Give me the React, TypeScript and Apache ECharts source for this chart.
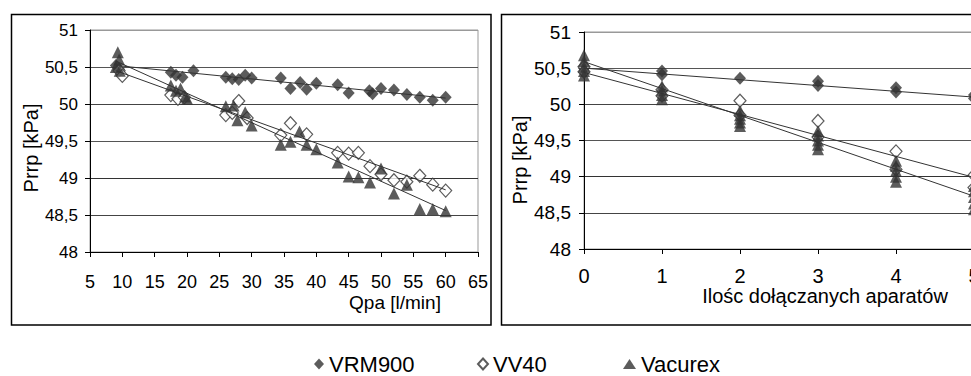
import React, { useEffect, useRef } from "react";
import * as echarts from "echarts";

// ---------- data ----------
const seriesNames = ["VRM900", "VV40", "Vacurex"];

// Left chart: Qpa [l/min] vs Prrp [kPa]
const leftVRM900: number[][] = [
  [9, 50.52], [9.5, 50.47], [17.5, 50.43], [18.3, 50.39], [19.3, 50.36], [21, 50.45],
  [26, 50.36], [27, 50.34], [28, 50.33], [29, 50.39], [30, 50.35], [34.5, 50.35],
  [36, 50.21], [37.5, 50.29], [38.5, 50.2], [40, 50.28], [43.3, 50.26], [45, 50.15],
  [48.2, 50.18], [48.7, 50.14], [50, 50.21], [52, 50.19], [54, 50.13], [56, 50.09],
  [58, 50.05], [60, 50.09],
];
const leftVV40: number[][] = [
  [9.5, 50.45], [10, 50.38], [17.5, 50.12], [18.6, 50.07], [19.6, 50.09],
  [26, 49.85], [27, 49.88], [28, 50.04], [29.3, 49.81], [34.5, 49.58], [36, 49.74],
  [38.5, 49.59], [43.3, 49.34], [45, 49.33], [46.5, 49.34], [48.3, 49.16], [50, 49.05],
  [52, 48.97], [54, 48.95], [56, 49.03], [58, 48.91], [60, 48.83],
];
const leftVacurex: number[][] = [
  [9.3, 50.7], [9.5, 50.6], [9, 50.5], [9.6, 50.45], [17.5, 50.25], [18.3, 50.18],
  [19, 50.21], [19.7, 50.1], [20, 50.07], [26, 49.97], [27.2, 49.98], [27.8, 49.78],
  [29, 49.89], [30, 49.71], [34.5, 49.45], [36, 49.49], [37.4, 49.63], [38.5, 49.45],
  [40, 49.39], [43.3, 49.21], [45, 49.02], [46.5, 49.01], [48.3, 48.94], [50, 49.13],
  [52, 48.79], [54, 48.91], [56, 48.58], [58, 48.58], [60, 48.55],
];
const leftTrendVRM900: number[][] = [[9, 50.52], [60, 50.08]];
const leftTrendVV40: number[][] = [[9, 50.45], [60, 48.84]];
const leftTrendVacurex: number[][] = [[9, 50.58], [60, 48.56]];

// Right chart: number of connected devices vs Prrp [kPa]
const rightVRM900: number[][] = [
  [0, 50.5], [0, 50.45], [1, 50.46], [1, 50.41], [2, 50.36], [3, 50.32], [3, 50.26],
  [4, 50.23], [4, 50.17], [5, 50.13], [5, 50.08],
];
const rightVV40: number[][] = [
  [0, 50.52], [0, 50.45], [1, 50.2], [1, 50.12], [2, 50.05], [2, 49.85], [3, 49.77],
  [3, 49.55], [4, 49.35], [4, 49.1], [5, 49.02], [5, 48.85],
];
const rightVacurex: number[][] = [
  [0, 50.68], [0, 50.6], [0, 50.52], [0, 50.46], [0, 50.4],
  [1, 50.25], [1, 50.19], [1, 50.13], [1, 50.07],
  [2, 49.91], [2, 49.85], [2, 49.8], [2, 49.75], [2, 49.7],
  [3, 49.63], [3, 49.57], [3, 49.5], [3, 49.44], [3, 49.38],
  [4, 49.22], [4, 49.15], [4, 49.08], [4, 49.0], [4, 48.93],
  [5, 48.87], [5, 48.8], [5, 48.72], [5, 48.63], [5, 48.55],
];
const rightTrendVRM900: number[][] = [[0, 50.5], [5, 50.1]];
const rightTrendVV40: number[][] = [[0, 50.44], [5, 48.99]];
const rightTrendVacurex: number[][] = [[0, 50.59], [5, 48.73]];

// axes
const yMin = 48, yMax = 51, yStep = 0.5;
const leftXMin = 5, leftXMax = 65, leftXStep = 5;
const rightXMin = 0, rightXMax = 5, rightXStep = 1;

const yAxisTitle = "Prrp [kPa]";
const leftXTitle = "Qpa [l/min]";
const rightXTitle = "Ilośc dołączanych aparatów";

// ---------- styles ----------
const FONT = '"Liberation Sans", Arial, Helvetica, sans-serif';
const DARK = "#333333";

const fmt = (v: number) => String(v).replace(".", ",");

const markerStyles: Record<string, any> = {
  VRM900: { symbol: "diamond", symbolSize: [12, 13], itemStyle: { color: DARK } },
  VV40: {
    symbol: "diamond",
    symbolSize: [12, 13],
    itemStyle: { color: "#ffffff", borderColor: DARK, borderWidth: 1.2 },
  },
  Vacurex: { symbol: "triangle", symbolSize: [12, 12], itemStyle: { color: DARK } },
};

function scatter(name: string, data: number[][], gi: number) {
  return {
    name,
    type: "scatter",
    xAxisIndex: gi,
    yAxisIndex: gi,
    data,
    z: 2,
    ...markerStyles[name],
  };
}
function trend(name: string, data: number[][], gi: number) {
  return {
    name: "trend " + name + " " + gi,
    type: "line",
    xAxisIndex: gi,
    yAxisIndex: gi,
    data,
    showSymbol: false,
    symbol: "none",
    z: 3,
    lineStyle: { color: DARK, width: 1 },
  };
}

function xAxis(gi: number, min: number, max: number, interval: number, fontSize: number, margin: number) {
  return {
    gridIndex: gi,
    type: "value",
    min,
    max,
    interval,
    axisLine: { show: true, onZero: false, lineStyle: { color: "#000", width: 1 } },
    axisTick: { show: true, inside: false, length: 5, lineStyle: { color: "#000" } },
    axisLabel: { fontSize, color: "#000", margin, fontFamily: FONT, formatter: fmt },
    splitLine: { show: false },
  };
}
function yAxis(gi: number, fontSize: number, margin: number) {
  return {
    gridIndex: gi,
    type: "value",
    min: yMin,
    max: yMax,
    interval: yStep,
    axisLine: { show: true, onZero: false, lineStyle: { color: "#000", width: 1 } },
    axisTick: { show: true, inside: false, length: 5, lineStyle: { color: "#000" } },
    axisLabel: { fontSize, color: "#000", margin, fontFamily: FONT, formatter: fmt },
    splitLine: {
      show: true,
      lineStyle: {
        color: ["#444", "#444", "#333", "#555", "#444", "#555", "#999"],
        width: 1,
      },
    },
  };
}

function titleText(text: string, x: number, y: number, size: number, rotation = 0) {
  return {
    type: "text",
    x,
    y,
    rotation,
    silent: true,
    style: {
      text,
      fill: "#000",
      fontSize: size,
      fontFamily: FONT,
      textAlign: "center",
      textVerticalAlign: "middle",
      align: "center",
      verticalAlign: "middle",
    },
  };
}

function legendItem(name: string, icon: string, left: number, w: number, h: number) {
  return {
    data: [{ name, icon }],
    left,
    top: 353,
    padding: 0,
    itemWidth: w,
    itemHeight: h,
    selectedMode: false,
    textStyle: { fontSize: 22, color: "#000", fontFamily: FONT },
  };
}

export default function App() {
  const ref = useRef<HTMLDivElement>(null);
  useEffect(() => {
    if (!ref.current) return;
    const chart = echarts.init(ref.current, null, { renderer: "svg" });
    chart.setOption({
      animation: false,
      backgroundColor: "#ffffff",
      textStyle: { fontFamily: FONT },
      grid: [
        { left: 90, top: 30, width: 388, height: 222, show: true, borderColor: "#999", borderWidth: 1, backgroundColor: "transparent" },
        { left: 584, top: 32, width: 390, height: 217, show: true, borderColor: "#999", borderWidth: 1, backgroundColor: "transparent" },
      ],
      xAxis: [
        xAxis(0, leftXMin, leftXMax, leftXStep, 18, 21),
        xAxis(1, rightXMin, rightXMax, rightXStep, 20, 17),
      ],
      yAxis: [yAxis(0, 17, 12), yAxis(1, 19, 13)],
      legend: [
        legendItem(seriesNames[0], "diamond", 314, 10, 11),
        legendItem(seriesNames[1], "diamond", 477, 10, 11),
        legendItem(seriesNames[2], "triangle", 623, 13, 10),
      ],
      graphic: [
        { type: "rect", silent: true, shape: { x: 11.5, y: 14.5, width: 479.5, height: 310.5 }, style: { fill: "none", stroke: "#000", lineWidth: 1.5 } },
        { type: "rect", silent: true, shape: { x: 501.5, y: 14.5, width: 600, height: 310.5 }, style: { fill: "none", stroke: "#000", lineWidth: 1.5 } },
        titleText(yAxisTitle, 31, 148, 20, Math.PI / 2),
        titleText(yAxisTitle, 520, 160, 20, Math.PI / 2),
        titleText(leftXTitle, 395, 302, 19),
        titleText(rightXTitle, 825, 296, 20),
      ],
      series: [
        scatter("VRM900", leftVRM900, 0),
        scatter("VV40", leftVV40, 0),
        scatter("Vacurex", leftVacurex, 0),
        trend("VRM900", leftTrendVRM900, 0),
        trend("VV40", leftTrendVV40, 0),
        trend("Vacurex", leftTrendVacurex, 0),
        scatter("VRM900", rightVRM900, 1),
        scatter("VV40", rightVV40, 1),
        scatter("Vacurex", rightVacurex, 1),
        trend("VRM900", rightTrendVRM900, 1),
        trend("VV40", rightTrendVV40, 1),
        trend("Vacurex", rightTrendVacurex, 1),
      ],
    });
    return () => chart.dispose();
  }, []);
  return (
    <div style={{ position: "fixed", left: 0, top: 0, width: 971, height: 376, overflow: "hidden", background: "#fff" }}>
      <div ref={ref} style={{ width: 1010, height: 376 }} />
    </div>
  );
}
